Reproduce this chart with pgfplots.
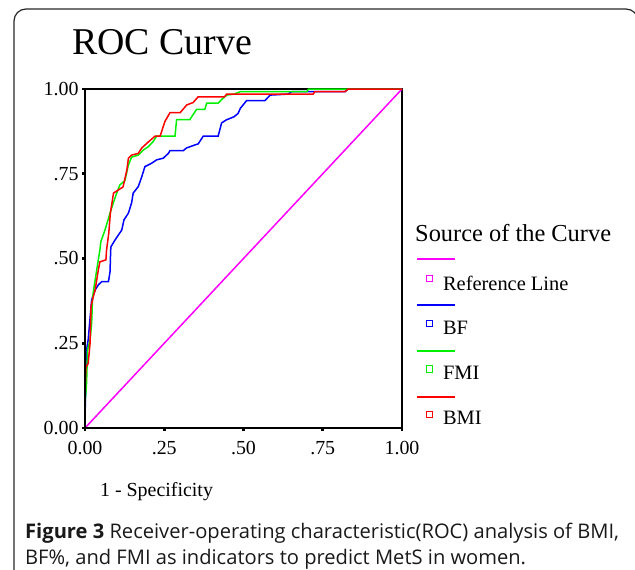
\documentclass[border=0pt]{standalone}
\usepackage{fontspec}
\setmainfont{Liberation Serif}
\newfontfamily\capfont{Open Sans}
\usepackage{pgfplots}
\pgfplotsset{compat=1.18}
\definecolor{refc}{RGB}{255,0,255}
\definecolor{bfc}{RGB}{0,0,255}
\definecolor{fmic}{RGB}{0,240,0}
\definecolor{bmic}{RGB}{255,0,0}
\newcommand{\fs}[1]{\fontsize{#1}{#1}\selectfont}
\tikzset{legline/.style={line width=1.5bp},
  legbox/.style={line width=1bp},
  legtext/.style={anchor=west, inner sep=0pt, font=\fs{20.5}}}

\begin{document}
\begin{tikzpicture}
\useasboundingbox (0bp,0bp) rectangle (635bp,-570bp);
\clip (0bp,0bp) rectangle (635bp,-570bp);
\draw[line width=1.2bp, black!85, rounded corners=12bp]
  (14bp,-590bp) -- (14bp,-9bp) -- (638bp,-9bp) -- (638bp,-590bp);

\begin{axis}[
    at={(85bp,-428bp)}, anchor=south west,
    width=317bp, height=339bp, scale only axis,
    xmin=0, xmax=1, ymin=0, ymax=1, clip=false,
    axis line style={line width=1.6bp},
    tick pos=left, tick align=outside,
    major tick length=3bp, tick style={line width=2.8bp, black},
    xtick={0,0.25,0.5,0.75,1}, ytick={0,0.25,0.5,0.75,1},
    xticklabels={0.00,.25,.50,.75,1.00},
    yticklabels={0.00,.25,.50,.75,1.00},
    tick label style={font=\fs{20}},
    xticklabel style={yshift=-7bp},
    title={ROC Curve},
    title style={at={(axis description cs:-0.041,1.121)}, anchor=west,
      inner sep=0pt, font=\fs{38}},
    xlabel={1 - Specificity},
    xlabel style={at={(axis description cs:0.047,-0.188)}, anchor=west,
      inner sep=0pt, font=\fs{20}},
]
\addplot[refc, line width=1.5bp] coordinates {(0,0) (1,1)};

\addplot[bfc, line width=1.5bp] coordinates {
(0,0) (0,0.03) (0.005,0.23) (0.01,0.26) (0.021,0.378) (0.032,0.407)
(0.042,0.422) (0.053,0.432) (0.074,0.432) (0.079,0.461) (0.081,0.525)
(0.082,0.535) (0.095,0.555) (0.116,0.584) (0.123,0.614) (0.137,0.634)
(0.147,0.664) (0.152,0.693) (0.168,0.712) (0.179,0.741) (0.189,0.771)
(0.21,0.781) (0.226,0.791) (0.247,0.796) (0.263,0.81) (0.268,0.818)
(0.31,0.818) (0.32,0.826) (0.347,0.835) (0.357,0.838) (0.373,0.861)
(0.42,0.861) (0.431,0.90) (0.446,0.909) (0.47,0.918) (0.483,0.928)
(0.49,0.943) (0.51,0.966) (0.568,0.966) (0.584,0.982) (0.64,0.985)
(0.652,0.992) (0.82,0.992) (0.83,1) (1,1)};

\addplot[fmic, line width=1.5bp] coordinates {
(0,0) (0,0.07) (0.005,0.133) (0.008,0.23) (0.016,0.26) (0.021,0.31)
(0.024,0.387) (0.032,0.437) (0.042,0.496) (0.047,0.525) (0.05,0.55)
(0.063,0.584) (0.079,0.634) (0.089,0.663) (0.1,0.693) (0.11,0.717)
(0.126,0.73) (0.137,0.776) (0.147,0.799) (0.168,0.805) (0.184,0.82)
(0.2,0.83) (0.215,0.845) (0.226,0.861) (0.284,0.861) (0.289,0.91)
(0.331,0.91) (0.352,0.94) (0.378,0.94) (0.384,0.958) (0.42,0.958)
(0.43,0.968) (0.447,0.982) (0.47,0.985) (0.49,0.992) (0.70,0.992)
(0.705,1) (1,1)};

\addplot[bmic, line width=1.5bp] coordinates {
(0,0) (0,0.09) (0.003,0.18) (0.01,0.19) (0.016,0.25) (0.019,0.358)
(0.026,0.387) (0.032,0.407) (0.037,0.437) (0.042,0.466) (0.047,0.49)
(0.066,0.496) (0.068,0.525) (0.075,0.575) (0.08,0.634) (0.09,0.693)
(0.12,0.711) (0.132,0.761) (0.137,0.796) (0.147,0.805) (0.168,0.81)
(0.179,0.826) (0.2,0.844) (0.221,0.861) (0.237,0.861) (0.252,0.904)
(0.268,0.93) (0.3,0.93) (0.321,0.953) (0.341,0.96) (0.357,0.977)
(0.44,0.977) (0.447,0.985) (0.72,0.985) (0.725,0.992) (0.82,0.992)
(0.83,1) (1,1)};

% heavier left and bottom axis lines
\draw[line width=2.6bp, line cap=rect]
  (rel axis cs:0,1) -- (rel axis cs:0,0) -- (rel axis cs:1,0);

% legend
\node[anchor=west, inner sep=0pt, font=\fs{24.5}]
  at (axis description cs:1.041,0.575) {Source of the Curve};

\draw[refc, legline] (axis description cs:1.047,0.499) -- (axis description cs:1.167,0.499);
\draw[refc, legbox] (axis description cs:1.076,0.433) rectangle (axis description cs:1.095,0.451);
\node[legtext] at (axis description cs:1.129,0.428) {Reference Line};

\draw[bfc, legline] (axis description cs:1.047,0.363) -- (axis description cs:1.167,0.363);
\draw[bfc, legbox] (axis description cs:1.076,0.300) rectangle (axis description cs:1.095,0.318);
\node[legtext] at (axis description cs:1.129,0.294) {BF};

\draw[fmic, legline] (axis description cs:1.047,0.227) -- (axis description cs:1.167,0.227);
\draw[fmic, legbox] (axis description cs:1.076,0.165) rectangle (axis description cs:1.095,0.183);
\node[legtext] at (axis description cs:1.129,0.162) {FMI};

\draw[bmic, legline] (axis description cs:1.047,0.091) -- (axis description cs:1.167,0.091);
\draw[bmic, legbox] (axis description cs:1.076,0.032) rectangle (axis description cs:1.095,0.050);
\node[legtext] at (axis description cs:1.129,0.029) {BMI};
\end{axis}

\node[anchor=north west, align=left, inner sep=0pt, text=black!90,
  font=\capfont\fontsize{20.2}{26}\selectfont] at (25bp,-523bp)
  {\textbf{Figure 3} Receiver-operating characteristic(ROC) analysis of BMI,\\
   BF\%, and FMI as indicators to predict MetS in women.};
\end{tikzpicture}
\end{document}
